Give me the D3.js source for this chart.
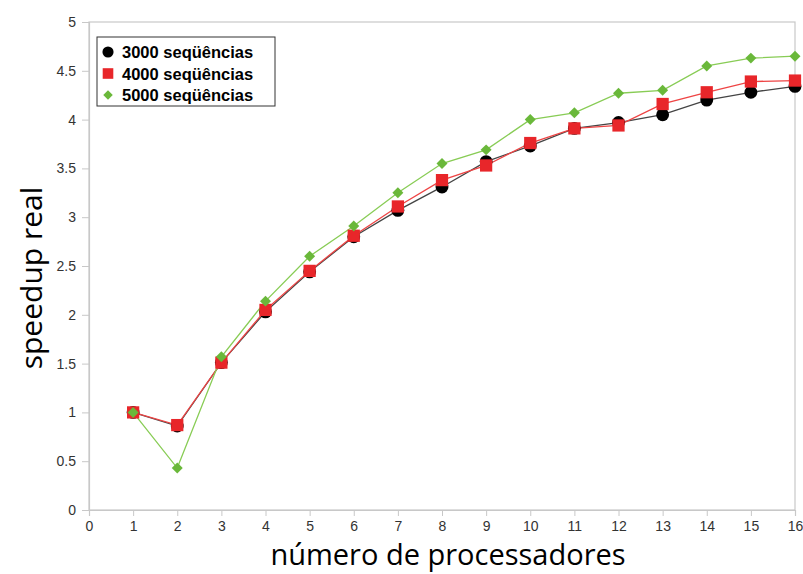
<!DOCTYPE html>
<html>
<head>
<meta charset="utf-8">
<script src="https://cdn.jsdelivr.net/npm/d3@7"></script>
<style>
  body { margin: 0; background: #fff; }
  svg { display: block; }
</style>
</head>
<body>
<script>
// data
let processors = [1, 2, 3, 4, 5, 6, 7, 8, 9, 10, 11, 12, 13, 14, 15, 16];
let seq3000 = [1.0, 0.86, 1.51, 2.03, 2.44, 2.80, 3.07, 3.31, 3.57, 3.73, 3.91, 3.97, 4.05, 4.20, 4.28, 4.34];
let seq4000 = [1.0, 0.87, 1.51, 2.05, 2.45, 2.81, 3.11, 3.38, 3.53, 3.76, 3.91, 3.94, 4.16, 4.28, 4.39, 4.40];
let seq5000 = [1.0, 0.43, 1.57, 2.14, 2.60, 2.91, 3.25, 3.55, 3.69, 4.00, 4.07, 4.27, 4.30, 4.55, 4.63, 4.65];
let seriesNames = ["3000 seqüências", "4000 seqüências", "5000 seqüências"];
let xTicks = d3.range(0, 17);
let yTicks = [0, 0.5, 1, 1.5, 2, 2.5, 3, 3.5, 4, 4.5, 5];

let margin = {top: 22, right: 8, bottom: 64, left: 89},
    width = 803 - margin.left - margin.right,
    height = 574 - margin.top - margin.bottom;

let x = d3.scaleLinear().domain([0, 16]).range([0, width]);
let y = d3.scaleLinear().domain([0, 5]).range([height, 0]);

let svg = d3.select("body").append("svg")
    .attr("width", 803)
    .attr("height", 574);
let chart = svg.append("g")
    .attr("transform", "translate(" + margin.left + "," + margin.top + ")");

// plot frame
chart.append("rect")
    .attr("x", 0).attr("y", 0)
    .attr("width", width).attr("height", height)
    .attr("fill", "none")
    .attr("stroke", "#c8c8c8")
    .attr("stroke-width", 1.2);

// axes
let xAxis = chart.append("g")
    .attr("transform", "translate(0," + height + ")")
    .call(d3.axisBottom(x).tickValues(xTicks).tickSize(6).tickPadding(5).tickFormat(d3.format("d")));
let yAxis = chart.append("g")
    .call(d3.axisLeft(y).tickValues(yTicks).tickSize(7).tickPadding(6).tickFormat(function(d) { return String(d); }));

[xAxis, yAxis].forEach(function(a) {
  a.select(".domain").attr("stroke", "#c8c8c8").attr("stroke-width", 1.2);
  a.selectAll(".tick line").attr("stroke", "#c8c8c8");
  a.selectAll(".tick text")
    .attr("fill", "#333")
    .style("font-family", "'Liberation Sans', Arial, sans-serif")
    .style("font-size", "14px");
});

// series (diamond = square turned 45 degrees)
let series = [
  {name: seriesNames[0], values: seq3000, line: "#444", fill: "#000", shape: d3.symbolCircle, size: 130, rot: 0},
  {name: seriesNames[1], values: seq4000, line: "#ee4444", fill: "#e8262a", shape: d3.symbolSquare, size: 150, rot: 0},
  {name: seriesNames[2], values: seq5000, line: "#88cc55", fill: "#6ab83a", shape: d3.symbolSquare, size: 60, rot: 45}
];

let line = d3.line()
    .x(function(d, i) { return x(processors[i]); })
    .y(function(d) { return y(d); });

series.forEach(function(s) {
  chart.append("path")
    .datum(s.values)
    .attr("fill", "none")
    .attr("stroke", s.line)
    .attr("stroke-width", 1.3)
    .attr("d", line);
});

series.forEach(function(s) {
  chart.selectAll(null)
    .data(s.values)
    .enter().append("path")
    .attr("transform", function(d, i) {
      return "translate(" + x(processors[i]) + "," + y(d) + ") rotate(" + s.rot + ")";
    })
    .attr("d", d3.symbol().type(s.shape).size(s.size))
    .attr("fill", s.fill);
});

// legend
let legend = chart.append("g").attr("transform", "translate(8,15)");
legend.append("rect")
    .attr("width", 178).attr("height", 69)
    .attr("fill", "#fff")
    .attr("stroke", "#333")
    .attr("stroke-width", 1);
series.forEach(function(s, i) {
  let g = legend.append("g").attr("transform", "translate(0," + (15 + i * 21.5) + ")");
  g.append("path")
    .attr("transform", "translate(11,0) rotate(" + s.rot + ")")
    .attr("d", d3.symbol().type(s.shape).size(s.size * 0.75))
    .attr("fill", s.fill);
  g.append("text")
    .attr("x", 25).attr("y", 6)
    .style("font-family", "'Liberation Sans', Arial, sans-serif")
    .style("font-weight", "bold")
    .style("font-size", "16.5px")
    .attr("fill", "#000")
    .text(s.name);
});

// axis titles
svg.append("text")
    .attr("x", margin.left + width / 2 + 6)
    .attr("y", 565)
    .attr("text-anchor", "middle")
    .style("font-family", "'Open Sans', sans-serif")
    .style("font-size", "29px")
    .attr("fill", "#000")
    .text("número de processadores");

svg.append("text")
    .attr("transform", "translate(42," + (margin.top + height / 2 + 12) + ") rotate(-90)")
    .attr("text-anchor", "middle")
    .style("font-family", "'Open Sans', sans-serif")
    .style("font-size", "30px")
    .attr("fill", "#000")
    .text("speedup real");
</script>
</body>
</html>
